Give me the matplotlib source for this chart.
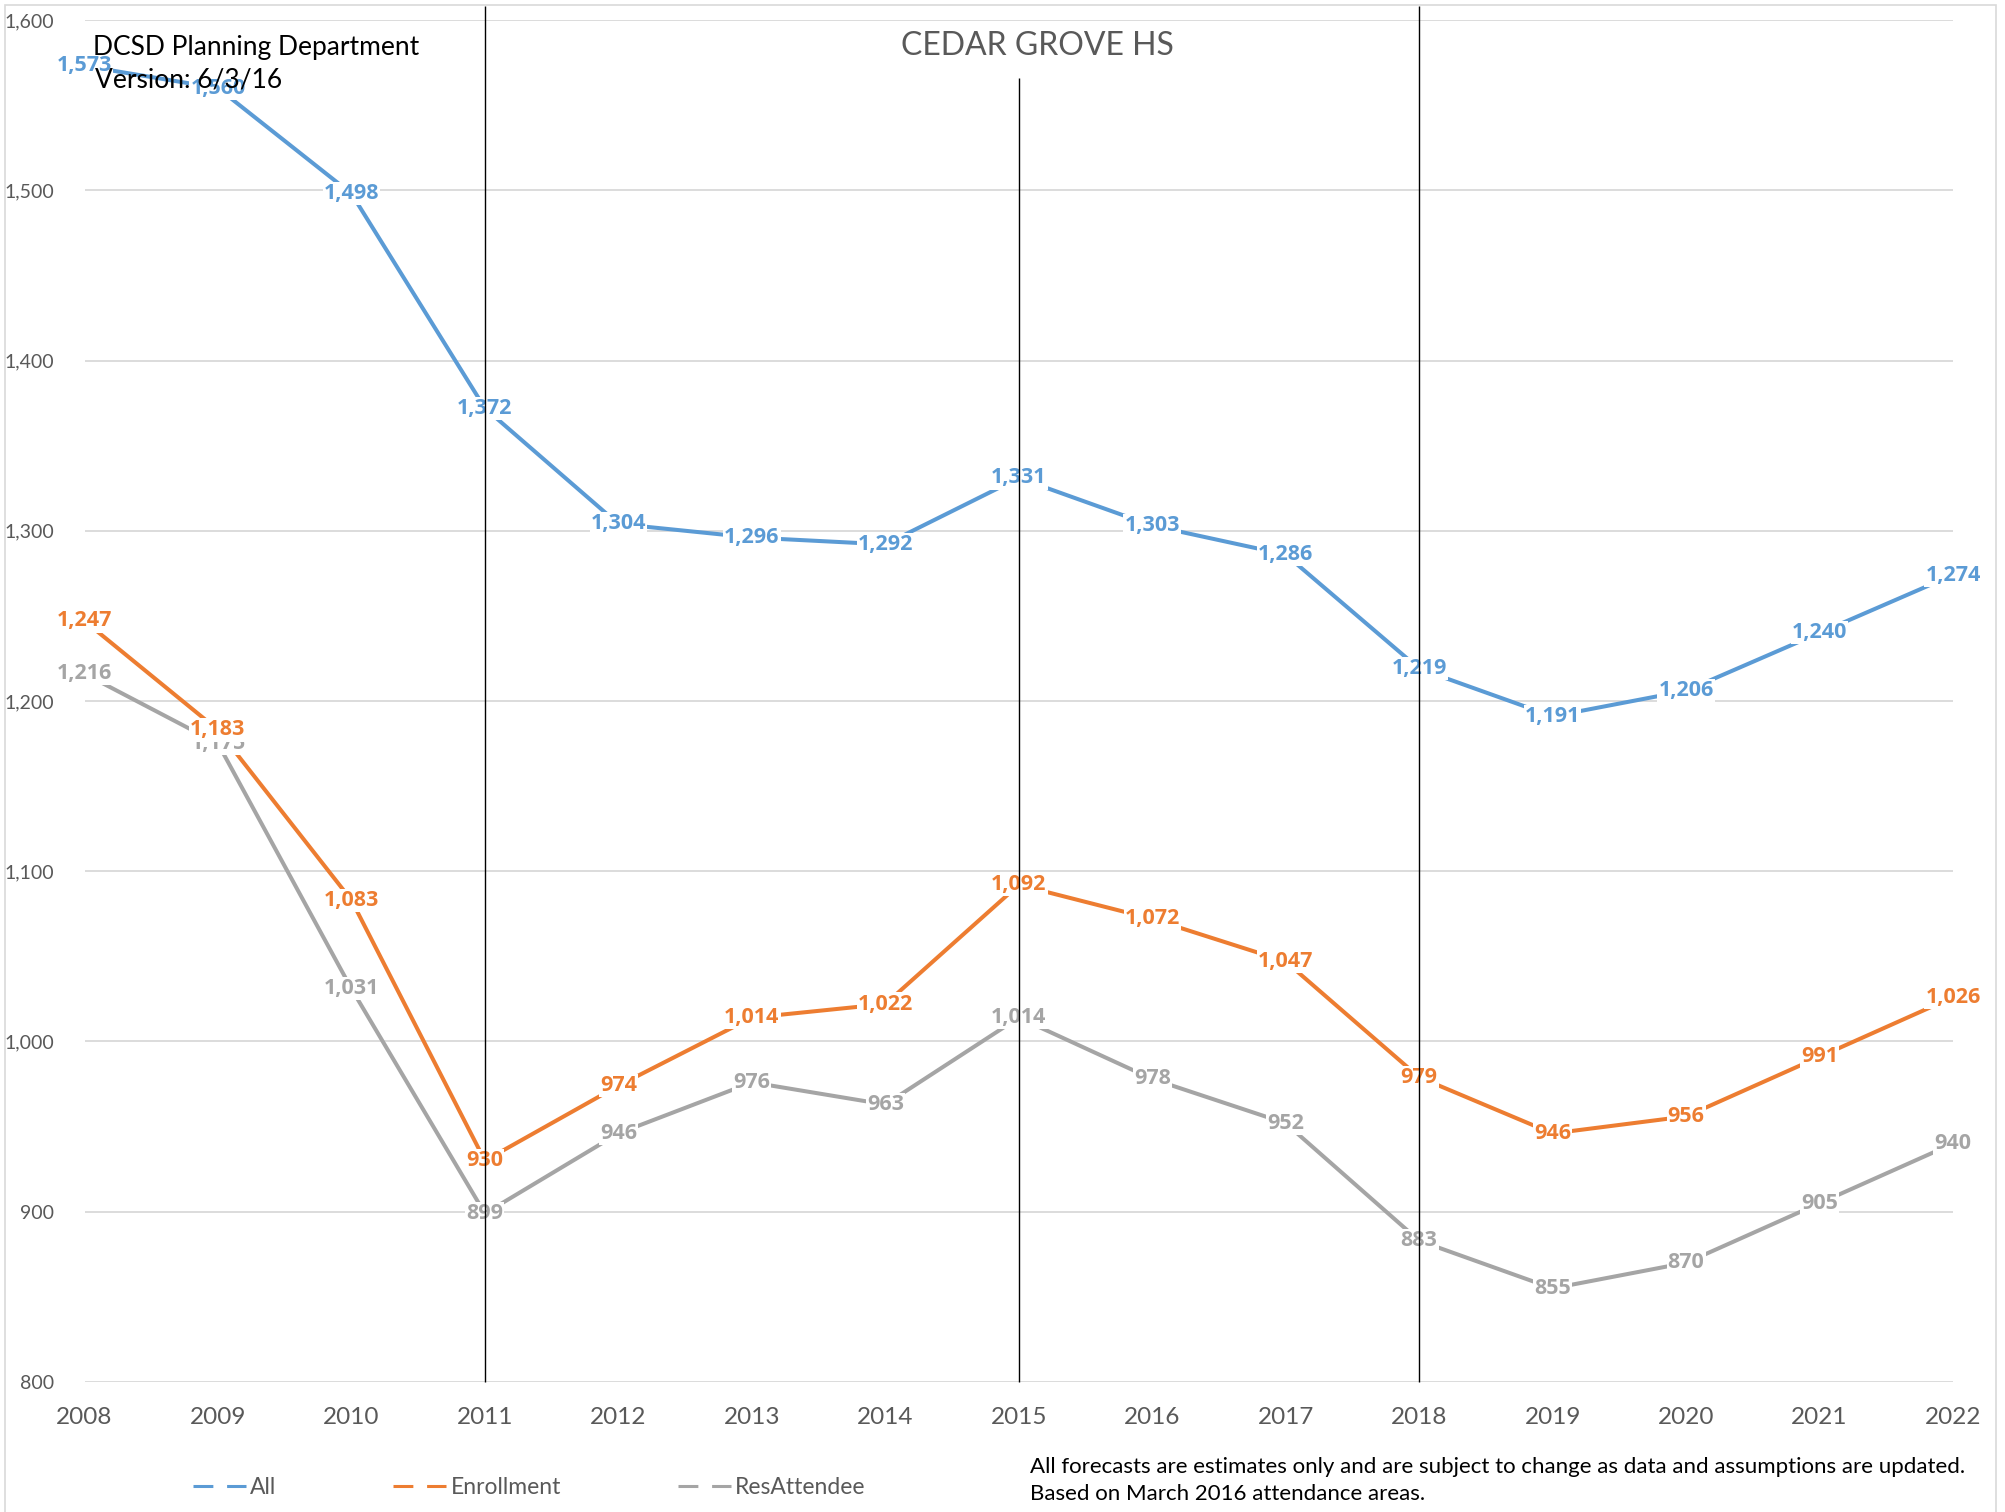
import matplotlib
matplotlib.use("Agg")
import matplotlib.pyplot as plt
from matplotlib.lines import Line2D
from matplotlib.patches import Rectangle
from matplotlib.ticker import FuncFormatter

plt.rcParams['font.family'] = ['Lato', 'DejaVu Sans']

years = list(range(2008, 2023))
all_students = [1573, 1560, 1498, 1372, 1304, 1296, 1292, 1331, 1303, 1286, 1219, 1191, 1206, 1240, 1274]
enrollment = [1247, 1183, 1083, 930, 974, 1014, 1022, 1092, 1072, 1047, 979, 946, 956, 991, 1026]
res_attendee = [1216, 1175, 1031, 899, 946, 976, 963, 1014, 978, 952, 883, 855, 870, 905, 940]
series_names = ["All", "Enrollment", "ResAttendee"]
colors = ["#5B9BD5", "#ED7D31", "#A5A5A5"]

# vertical marker lines (year, top value)
marker_years = [2011, 2015, 2018]
marker_tops = [1608, 1566, 1608]

W, H = 2005, 1512
fig = plt.figure(figsize=(W / 100, H / 100), dpi=100)
ax = fig.add_axes([84.5 / W, 1 - 1382 / H, (1953 - 84.5) / W, (1382 - 20) / H])

ax.set_xlim(2008, 2022)
ax.set_ylim(800, 1600)
ax.set_yticks(range(800, 1601, 100))
ax.set_xticks(years)
ax.yaxis.set_major_formatter(FuncFormatter(lambda v, p: f"{int(v):,}"))
ax.grid(axis='y', color='#D9D9D9', lw=1.3)
ax.set_axisbelow(True)
for s in ax.spines.values():
    s.set_visible(False)
ax.tick_params(axis='both', length=0, colors='#595959')
ax.tick_params(axis='y', labelsize=14, pad=22)
ax.tick_params(axis='x', labelsize=17.5, pad=18)

data = [all_students, enrollment, res_attendee]
for vals, c in zip(data, colors):
    ax.plot(years, vals, color=c, lw=2.9, zorder=2, solid_capstyle='butt')

# data labels: grey first, blue on top
for z, (vals, c) in zip([5, 4, 3], zip(data, colors)):
    for x, v in zip(years, vals):
        ax.text(x, v, f"{v:,}", color=c, fontsize=15.5, fontweight='bold',
                family=['Open Sans', 'DejaVu Sans'],
                ha='center', va='center', zorder=z,
                bbox=dict(facecolor='white', edgecolor='none', pad=0.8))

ax.vlines(marker_years, 800, marker_tops, color='black', lw=1.0, zorder=6, clip_on=False)

fig.text(1037 / W, 1 - 46 / H, "CEDAR GROVE HS", fontsize=23, color='#595959',
         ha='center', va='center')
fig.text(93 / W, 1 - 47 / H, "DCSD Planning Department", fontsize=19, color='black',
         ha='left', va='center', zorder=10)
fig.text(95 / W, 1 - 80 / H, "Version: 6/3/16", fontsize=19, color='black',
         ha='left', va='center', zorder=10)

fig.text(1030 / W, 1 - 1473 / H, "All forecasts are estimates only and are subject to change as data and assumptions are updated.",
         fontsize=16, color='black', ha='left', va='baseline')
fig.text(1030 / W, 1 - 1500 / H, "Based on March 2016 attendance areas.",
         fontsize=16, color='black', ha='left', va='baseline')

handles = [Line2D([], [], color=c, lw=2.2, dashes=(6.5, 4.5), dash_capstyle='butt') for c in colors]
leg = fig.legend(handles, series_names, loc='center left', ncol=3,
                 bbox_to_anchor=(193 / W, 1 - 1488 / H), bbox_transform=fig.transFigure,
                 frameon=False, fontsize=16.5, handlelength=2.3, handletextpad=0.2,
                 columnspacing=5.1, borderpad=0, borderaxespad=0)
for t in leg.get_texts():
    t.set_color('#595959')

fig.patches.append(Rectangle((5 / W, -0.01), (1996 - 5) / W, 1 - 5 / H + 0.01,
                             transform=fig.transFigure, fill=False,
                             edgecolor='#D9D9D9', lw=1.2))

fig.savefig("out.png", dpi=100)
